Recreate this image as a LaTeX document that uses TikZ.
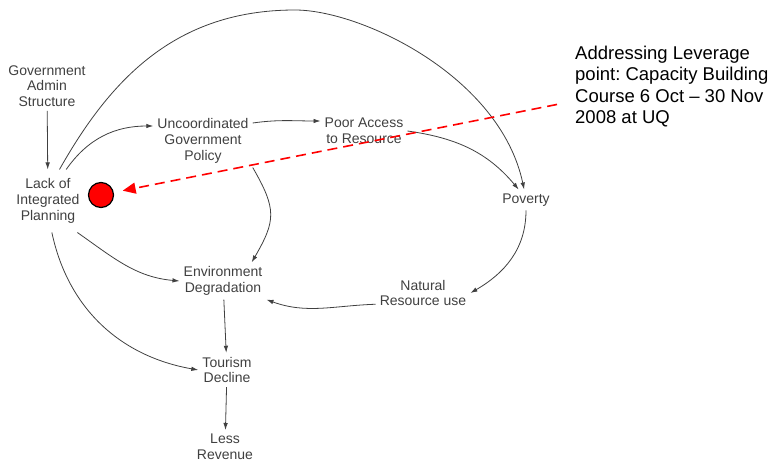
\documentclass[tikz,border=0pt]{standalone}
\usepackage{fontspec}
\setmainfont{Liberation Sans}
\usetikzlibrary{arrows.meta}
\frenchspacing

\begin{document}
\begin{tikzpicture}[x=1pt, y=1pt,
    var/.style={align=center, text=black!75, inner sep=4pt, font=\fontsize{14}{15.8}\selectfont},
    note/.style={align=left, inner sep=0pt, font=\fontsize{18.5}{21.2}\selectfont},
    dot/.style={circle, fill=red, draw=black, line width=1.2pt, minimum size=25pt, inner sep=0pt},
    link/.style={draw=black!75, line width=0.8pt, -{Latex[length=7pt,width=4.5pt]}},
    lever/.style={draw=red, line width=1.6pt, dash pattern=on 10pt off 6pt, -{Triangle[length=13pt,width=11pt]}, shorten >=9pt}]
    \useasboundingbox (0,0) rectangle (771,-462);
    \node[var] (govt) at (47,-86) {Government\\Admin\\Structure};
    \node[var, inner sep=9pt] (lack) at (48,-201) {Lack of\\Integrated\\Planning};
    \node[var] (unco) at (203,-141) {Uncoordinated\\Government\\Policy};
    \node[var] (poor) at (364,-131) {Poor Access\\to Resource};
    \node[var] (poverty) at (526,-200) {Poverty};
    \node[var] (natural) at (423,-293) {Natural\\Resource use};
    \node[var] (env) at (223,-281) {Environment\\Degradation};
    \node[var] (tourism) at (227,-370) {Tourism\\Decline};
    \node[var] (revenue) at (225,-447) {Less\\Revenue};
    \node[note, anchor=north west] (note) at (575,-46) {Addressing Leverage\\point: Capacity Building\\Course 6 Oct – 30 Nov\\2008 at UQ};
    \node[dot] (dot) at (101,-195) {};
    \coordinate (top) at (295,-10);

    \draw[link] (govt) -- (lack);
    \draw[link] (lack.60) to[out=55, in=180] ([yshift=15pt]unco.west);
    \draw[link] (lack.70) .. controls (110,-80) and (175,-10) .. (top) .. controls (361,-10) and (500,-76) .. (poverty.100);
    \draw[link] (lack.-47) to[out=-35, in=175] (env.west);
    \draw[link] (lack.-83) to[out=-78, in=170] (tourism.west);
    \draw[link] ([yshift=18pt]unco.east) to[out=8, in=180] ([yshift=10pt]poor.west);
    \draw[link] (poor.east) to[out=-8, in=130] (poverty.125);
    \draw[link] (unco.south east) to[out=-60, in=60, looseness=1.3] (env.33);
    \draw[link] (poverty.south) to[out=-90, in=30] (natural.east);
    \draw[link] ([yshift=6pt]natural.south west) to[out=182, in=-20] (env.south east);
    \draw[link] (env) -- (tourism);
    \draw[link] (tourism) -- (revenue);
    \draw[lever] ([shift={(-18,-18)}]note.west) -- (dot);
\end{tikzpicture}
\end{document}
